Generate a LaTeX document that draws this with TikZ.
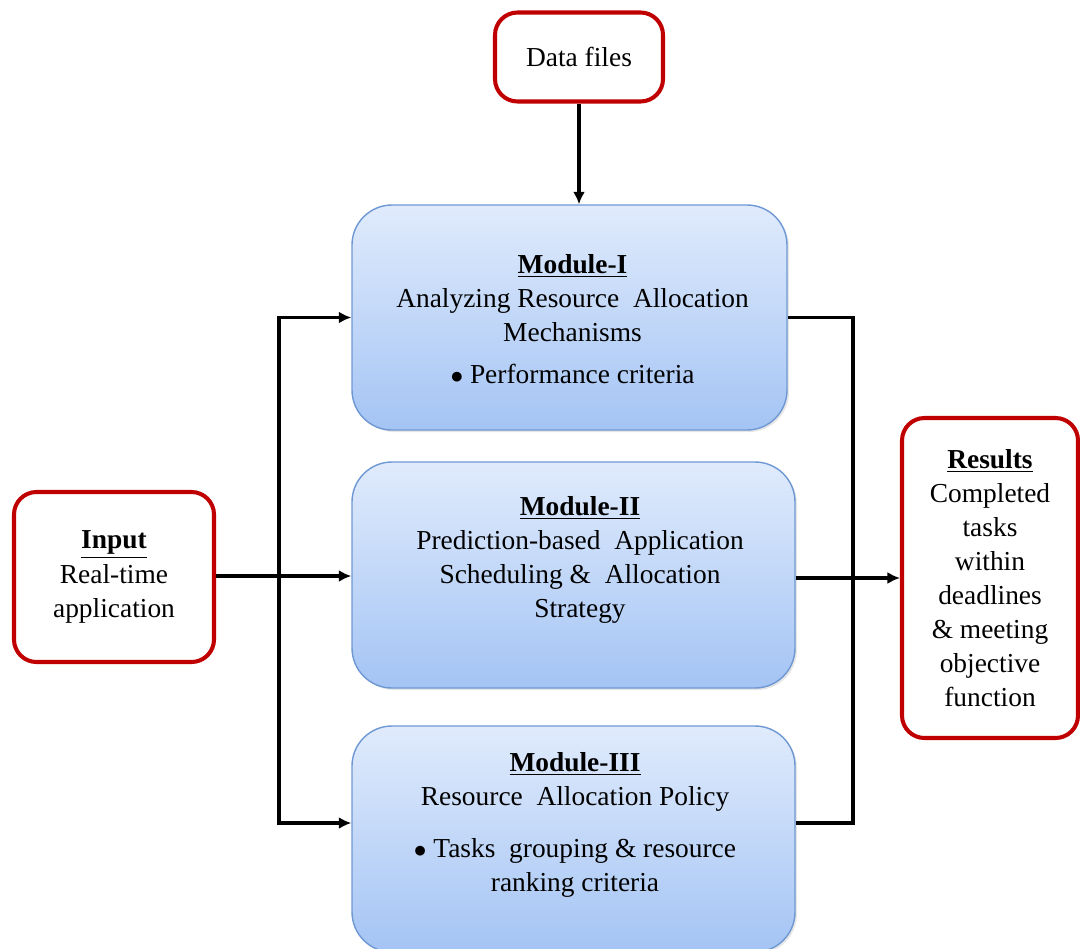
\documentclass[tikz,border=0pt]{standalone}
\usepackage{fontspec}
\setmainfont{Liberation Serif}
\usepackage{tikz}
\usetikzlibrary{shapes,arrows.meta,positioning,shadows}
\usepackage{xcolor}
\definecolor{boxred}{RGB}{192,0,0}
\definecolor{modtop}{RGB}{224,235,252}
\definecolor{modbot}{RGB}{164,196,244}
\definecolor{modedge}{RGB}{110,152,212}

\tikzset{
    redbox/.style={draw=boxred, line width=2.3pt, rounded corners=0.45cm, fill=white, align=center},
    modbox/.style={draw=modedge, line width=0.8pt, rounded corners=0.8cm, top color=modtop, bottom color=modbot,
        drop shadow={opacity=0.2, shadow xshift=0.04cm, shadow yshift=-0.04cm}},
    modtext/.style={align=center},
    conn/.style={-{Latex[length=0.25cm,width=0.24cm]}, line width=2pt},
    bus/.style={line width=2pt}
}

\begin{document}
\begin{tikzpicture}[font=\fontsize{15.6}{19.4}\selectfont]
    \useasboundingbox (0,0) rectangle (21.6,-18.96);

    % outer boxes
    \node[redbox, minimum width=3.36cm, minimum height=1.78cm] (data) at (11.58,-1.14) {Data files};
    \node[redbox, minimum width=4.0cm, minimum height=3.4cm] (inp) at (2.28,-11.54) {\underline{\textbf{Input}}\\Real-time\\application};
    \node[redbox, minimum width=3.52cm, minimum height=6.4cm] (res) at (19.8,-11.56) {\underline{\textbf{Results}}\\Completed\\tasks\\within\\deadlines\\\& meeting\\objective\\function};

    % modules
    \node[modbox, minimum width=8.7cm, minimum height=4.5cm] (mod1) at (11.39,-6.35) {};
    \node[modbox, minimum width=8.86cm, minimum height=4.52cm] (mod2) at (11.47,-11.5) {};
    \node[modbox, minimum width=8.86cm, minimum height=4.52cm] (mod3) at (11.47,-16.78) {};

    \node[modtext] (mod1txt) at (11.45,-6.38) {\underline{\textbf{Module-I}}\\Analyzing Resource\ \ Allocation\\Mechanisms\\[0.15cm]$\bullet$ Performance criteria};
    \node[modtext] (mod2txt) at (11.6,-11.2) {\underline{\textbf{Module-II}}\\Prediction-based\ \ Application\\Scheduling \&\ \ Allocation\\Strategy};
    \node[modtext] (mod3txt) at (11.5,-16.5) {\underline{\textbf{Module-III}}\\Resource\ \ Allocation Policy\\[0.35cm]$\bullet$ Tasks\ \ grouping \& resource\\ranking criteria};

    % connectors
    \coordinate (lsplit) at (5.58,-11.52);
    \coordinate (rjoin) at (17.06,-11.52);

    \draw[conn] (data.south) -- (data.south |- mod1.north);
    \draw[conn] (inp.east |- lsplit) -- (mod2.west |- lsplit);
    \draw[conn] (lsplit) |- (mod1.west);
    \draw[conn] (lsplit) |- ([yshift=0.32cm]mod3.west);
    \draw[bus] (mod1.east) -| (rjoin);
    \draw[bus] ([yshift=0.32cm]mod3.east) -| (rjoin);
    \draw[conn] (mod2.east |- res.west) -- (res.west);
\end{tikzpicture}
\end{document}
